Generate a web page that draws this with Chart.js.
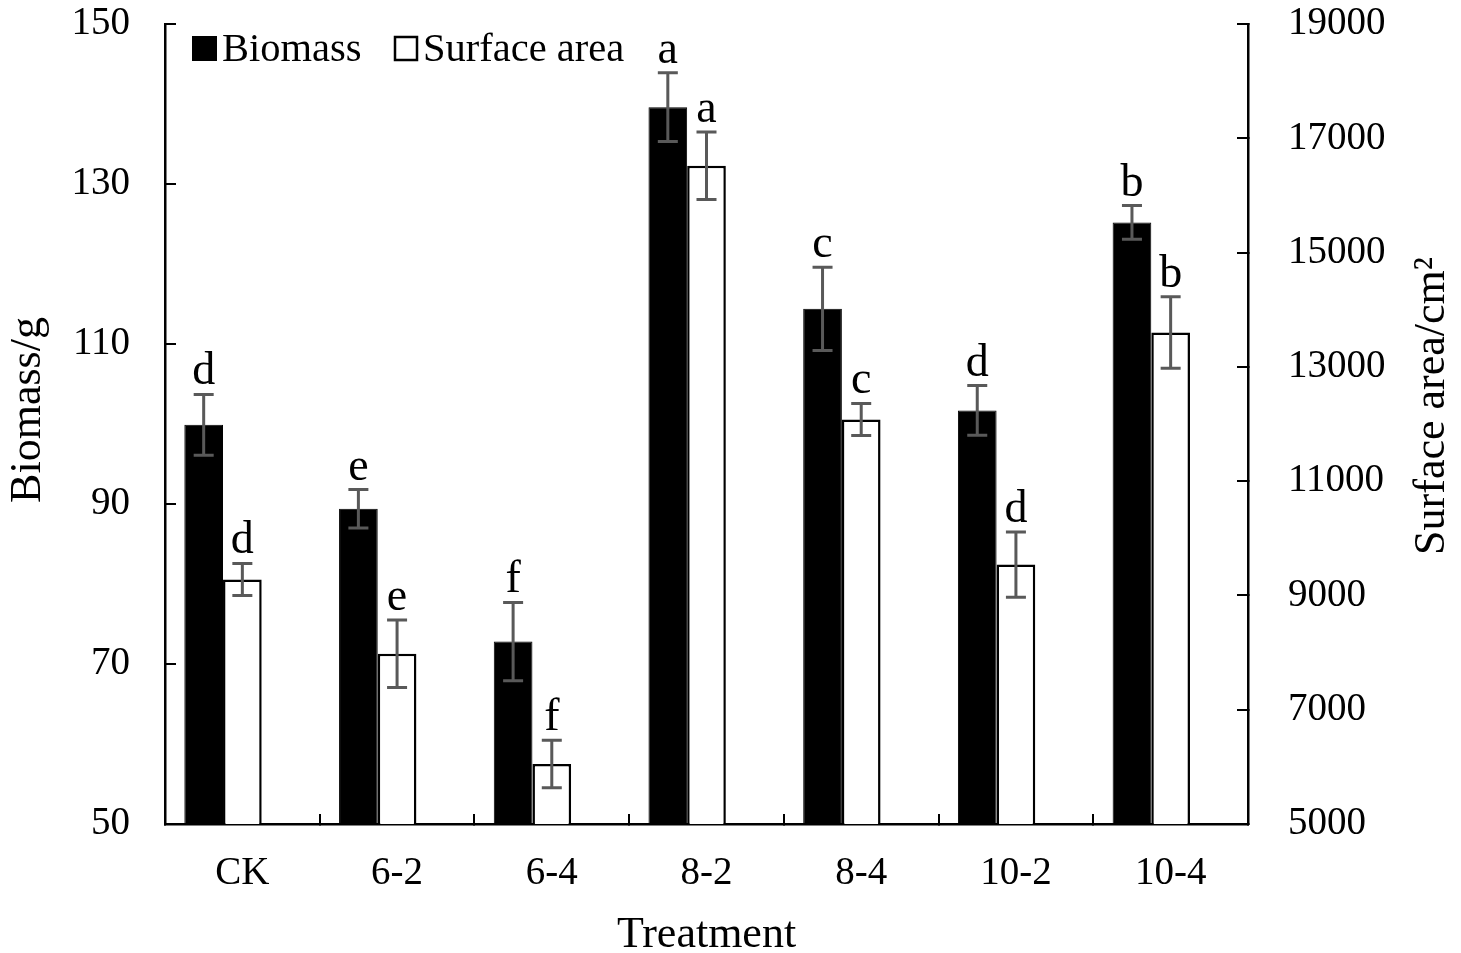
<!DOCTYPE html>
<html>
<head>
<meta charset="utf-8">
<script src="https://cdn.jsdelivr.net/npm/chart.js@4.4.1/dist/chart.umd.min.js"></script>
<style>
  html, body { margin: 0; padding: 0; background: #fff; }
  canvas { display: block; }
</style>
</head>
<body>
<canvas id="chart" width="1461" height="953"></canvas>
<script>
const treatments = ["CK", "6-2", "6-4", "8-2", "8-4", "10-2", "10-4"];
const biomass = [99.9, 89.4, 72.8, 139.6, 114.4, 101.7, 125.2];
const biomassErr = [3.8, 2.4, 4.9, 4.3, 5.2, 3.1, 2.1];
const biomassLetters = ["d", "e", "f", "a", "c", "d", "b"];
const surfaceArea = [9280, 7980, 6050, 16520, 12080, 9540, 13600];
const surfaceErr = [280, 590, 415, 590, 280, 570, 625];
const surfaceLetters = ["d", "e", "f", "a", "c", "d", "b"];

const FONT = '"Liberation Serif", "Times New Roman", serif';
const errors = [biomassErr, surfaceErr];
const letters = [biomassLetters, surfaceLetters];

// error bars + significance letters, drawn from each bar element and its own y scale
const errorBars = {
  id: 'errorBars',
  afterDatasetsDraw(chart) {
    const ctx = chart.ctx;
    ctx.save();
    [0, 1].forEach(di => {
      const meta = chart.getDatasetMeta(di);
      const ds = chart.data.datasets[di];
      const scale = chart.scales[ds.yAxisID];
      meta.data.forEach((bar, i) => {
        const v = ds.data[i], e = errors[di][i];
        const yTop = scale.getPixelForValue(v + e);
        const yBot = scale.getPixelForValue(v - e);
        ctx.strokeStyle = '#595959';
        ctx.lineWidth = 3;
        ctx.beginPath();
        ctx.moveTo(bar.x, yTop); ctx.lineTo(bar.x, yBot);
        ctx.moveTo(bar.x - 10, yTop); ctx.lineTo(bar.x + 10, yTop);
        ctx.moveTo(bar.x - 10, yBot); ctx.lineTo(bar.x + 10, yBot);
        ctx.stroke();
        ctx.fillStyle = '#000';
        ctx.font = '46px ' + FONT;
        ctx.textAlign = 'center';
        ctx.textBaseline = 'alphabetic';
        ctx.fillText(letters[di][i], bar.x, yTop - 10);
      });
    });
    ctx.restore();
  }
};

// legend inside the plot and the two rotated axis titles
const decorations = {
  id: 'decorations',
  afterDraw(chart) {
    const ctx = chart.ctx;
    const a = chart.chartArea;
    ctx.save();
    ctx.fillStyle = '#000';
    ctx.fillRect(a.left + 27, a.top + 12, 25, 25);
    ctx.strokeStyle = '#000';
    ctx.lineWidth = 2.5;
    ctx.fillStyle = '#fff';
    ctx.fillRect(a.left + 230, a.top + 13, 22, 23);
    ctx.strokeRect(a.left + 230, a.top + 13, 22, 23);
    ctx.fillStyle = '#000';
    ctx.font = '40.5px ' + FONT;
    ctx.textAlign = 'left';
    ctx.textBaseline = 'alphabetic';
    ctx.fillText('Biomass', a.left + 57, a.top + 37);
    ctx.fillText('Surface area', a.left + 258, a.top + 37);

    ctx.font = '44px ' + FONT;
    ctx.textAlign = 'center';
    ctx.textBaseline = 'middle';
    ctx.translate(28, 410);
    ctx.rotate(-Math.PI / 2);
    ctx.fillText('Biomass/g', 0, 0);
    ctx.restore();

    ctx.save();
    ctx.fillStyle = '#000';
    ctx.font = '44px ' + FONT;
    ctx.textAlign = 'center';
    ctx.textBaseline = 'middle';
    ctx.translate(1432, 406);
    ctx.rotate(-Math.PI / 2);
    ctx.fillText('Surface area/cm\u00B2', 0, 0);
    ctx.restore();
  }
};

function fitY(width) {
  return s => {
    s.width = width;
    s.paddingTop = 24;
    s.paddingBottom = 0;
  };
}

new Chart(document.getElementById('chart'), {
  type: 'bar',
  data: {
    labels: treatments,
    datasets: [
      {
        label: 'Biomass',
        data: biomass,
        yAxisID: 'y',
        backgroundColor: '#000',
        borderColor: '#000',
        borderWidth: 1
      },
      {
        label: 'Surface area',
        data: surfaceArea,
        yAxisID: 'y1',
        backgroundColor: '#fff',
        borderColor: '#000',
        borderWidth: 2.5
      },
      {
        // empty slot, the original groups sit left of the category centre
        label: '',
        data: treatments.map(() => null),
        yAxisID: 'y'
      }
    ]
  },
  options: {
    responsive: false,
    animation: false,
    devicePixelRatio: 1,
    layout: { padding: 0 },
    datasets: { bar: { categoryPercentage: 0.75, barPercentage: 1.0 } },
    plugins: { legend: { display: false }, tooltip: { enabled: false } },
    scales: {
      x: {
        offset: true,
        grid: { display: true, offset: true, drawOnChartArea: false, color: '#000', lineWidth: 2, tickLength: -10 },
        border: { display: true, color: '#000', width: 2.5 },
        ticks: { color: '#000', font: { family: FONT, size: 39 }, padding: 36 },
        title: { display: true, text: 'Treatment', color: '#000', font: { family: FONT, size: 44, lineHeight: 0.8 }, padding: 0 },
        afterFit(s) { s.height = 129; s.paddingLeft = 0; s.paddingRight = 0; }
      },
      y: {
        position: 'left',
        min: 50, max: 150,
        ticks: { stepSize: 20, color: '#000', font: { family: FONT, size: 39 }, padding: 46, callback: v => String(v) },
        grid: { drawOnChartArea: false, color: '#000', lineWidth: 2, tickLength: -11 },
        border: { display: true, color: '#000', width: 2.5 },
        afterFit: fitY(165)
      },
      y1: {
        position: 'right',
        min: 5000, max: 19000,
        ticks: { stepSize: 2000, color: '#000', font: { family: FONT, size: 39 }, padding: 51, callback: v => String(v) },
        grid: { drawOnChartArea: false, color: '#000', lineWidth: 2, tickLength: -11 },
        border: { display: true, color: '#000', width: 2.5 },
        afterFit: fitY(213)
      }
    }
  },
  plugins: [errorBars, decorations]
});
</script>
</body>
</html>
